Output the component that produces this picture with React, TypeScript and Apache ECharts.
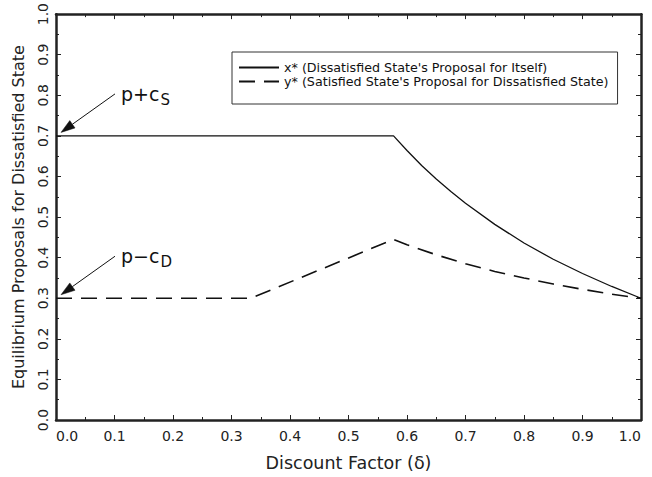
import React, { useEffect, useRef } from "react";
import * as echarts from "echarts";

// x* : Dissatisfied State's proposal for itself
const xStarDelta = [0, 0.577, 0.6, 0.625, 0.65, 0.675, 0.7, 0.75, 0.8, 0.85, 0.9, 0.95, 1.0];
const xStarValue = [0.7, 0.7, 0.664, 0.627, 0.594, 0.563, 0.534, 0.482, 0.436, 0.396, 0.361, 0.329, 0.3];

// y* : Satisfied State's proposal for Dissatisfied State
const yStarDelta = [0, 0.333, 0.577, 0.6, 0.65, 0.7, 0.75, 0.8, 0.85, 0.9, 0.95, 1.0];
const yStarValue = [0.3, 0.3, 0.445, 0.432, 0.407, 0.385, 0.366, 0.35, 0.335, 0.322, 0.31, 0.3];

const seriesNames = [
  "x* (Dissatisfied State's Proposal for Itself)",
  "y* (Satisfied State's Proposal for Dissatisfied State)",
];

// annotations: [main text, subscript, delta, value]
const annotations: [string, string, number, number][] = [
  ["p+c", "S", 0, 0.7],
  ["p\u2212c", "D", 0, 0.3],
];

const xAxisName = "Discount Factor (\u03b4)";
const yAxisName = "Equilibrium Proposals for Dissatisfied State";

const FONT = "DejaVu Sans";

function measure(text: string, size: number): number {
  const c = document.createElement("canvas").getContext("2d");
  if (!c) return text.length * size * 0.6;
  c.font = `${size}px "${FONT}"`;
  return c.measureText(text).width;
}

export default function App() {
  const ref = useRef<HTMLDivElement>(null);
  useEffect(() => {
    if (!ref.current) return;
    const chart = echarts.init(ref.current, null, { renderer: "svg" });
    const axisLineStyle = { color: "#222", width: 2.5 };
    const tick = { inside: true, length: 5, lineStyle: { color: "#222", width: 1 } };
    const minor = { show: true, splitNumber: 2, length: 3, lineStyle: { color: "#222", width: 1 } };
    const option: any = {
      animation: false,
      backgroundColor: "#fff",
      textStyle: { fontFamily: FONT },
      grid: { left: 56, right: 11, top: 14, bottom: 54 },
      legend: {
        left: 232,
        top: 52,
        orient: "vertical",
        borderColor: "#333",
        borderWidth: 1,
        padding: [9, 9, 16, 6],
        itemGap: 1,
        itemWidth: 40,
        itemHeight: 10,
        itemStyle: { opacity: 0, color: "transparent", borderWidth: 0 },
        textStyle: { fontFamily: FONT, fontSize: 12.7, color: "#111", padding: [0, 0, 0, 0] },
        data: seriesNames,
      },
      xAxis: [
        {
          type: "value",
          min: 0,
          max: 1,
          interval: 0.1,
          position: "bottom",
          name: xAxisName,
          nameLocation: "middle",
          nameGap: 34,
          nameTextStyle: { fontFamily: FONT, fontSize: 17.5, color: "#222" },
          axisLine: { show: true, onZero: false, lineStyle: axisLineStyle },
          axisTick: tick,
          minorTick: minor,
          splitLine: { show: false },
          axisLabel: {
            fontFamily: FONT,
            fontSize: 14,
            color: "#222",
            margin: 9,
            formatter: (v: number) => v.toFixed(1),
            alignMinLabel: "left",
            alignMaxLabel: "right",
          },
        },
        {
          type: "value",
          min: 0,
          max: 1,
          interval: 0.1,
          position: "top",
          axisLine: { show: true, onZero: false, lineStyle: axisLineStyle },
          axisTick: tick,
          minorTick: minor,
          splitLine: { show: false },
          axisLabel: { show: false },
        },
      ],
      yAxis: [
        {
          type: "value",
          min: 0,
          max: 1,
          interval: 0.1,
          position: "left",
          name: yAxisName,
          nameLocation: "middle",
          nameGap: 30,
          nameTextStyle: { fontFamily: FONT, fontSize: 16, color: "#222" },
          axisLine: { show: true, onZero: false, lineStyle: axisLineStyle },
          axisTick: tick,
          minorTick: minor,
          splitLine: { show: false },
          axisLabel: {
            fontFamily: FONT,
            fontSize: 14,
            color: "#222",
            rotate: 90,
            margin: 6,
            formatter: (v: number) => v.toFixed(1),
          },
        },
        {
          type: "value",
          min: 0,
          max: 1,
          interval: 0.1,
          position: "right",
          axisLine: { show: true, onZero: false, lineStyle: axisLineStyle },
          axisTick: tick,
          minorTick: minor,
          splitLine: { show: false },
          axisLabel: { show: false },
        },
      ],
      series: [
        {
          name: seriesNames[0],
          type: "line",
          xAxisIndex: 0,
          yAxisIndex: 0,
          symbol: "none",
          smooth: false,
          lineStyle: { color: "#111", width: 1.3, type: "solid" },
          itemStyle: { color: "#111" },
          data: xStarDelta.map((d, i) => [d, xStarValue[i]]),
        },
        {
          name: seriesNames[1],
          type: "line",
          xAxisIndex: 0,
          yAxisIndex: 0,
          symbol: "none",
          smooth: false,
          lineStyle: { color: "#111", width: 1.6, type: [16, 9] },
          itemStyle: { color: "#111" },
          data: yStarDelta.map((d, i) => [d, yStarValue[i]]),
        },
      ],
    };
    chart.setOption(option);

    const graphics: any[] = [];
    const mainSize = 19;
    const subSize = 15;
    annotations.forEach(([main, sub, d, v]) => {
      const pt = chart.convertToPixel({ xAxisIndex: 0, yAxisIndex: 0 }, [d, v]) as number[];
      const tip = [pt[0] + 5, pt[1] - 3.5];
      const tail = [pt[0] + 59, pt[1] - 42];
      const dx = tail[0] - tip[0];
      const dy = tail[1] - tip[1];
      const len = Math.sqrt(dx * dx + dy * dy);
      const ux = dx / len;
      const uy = dy / len;
      const headLen = 14;
      const headHalf = 4.5;
      const base = [tip[0] + ux * headLen, tip[1] + uy * headLen];
      const px = -uy * headHalf;
      const py = ux * headHalf;
      graphics.push({
        type: "line",
        shape: { x1: tail[0], y1: tail[1], x2: base[0], y2: base[1] },
        style: { stroke: "#111", lineWidth: 1 },
        z: 100,
      });
      graphics.push({
        type: "polygon",
        shape: {
          points: [
            [tip[0], tip[1]],
            [base[0] + px, base[1] + py],
            [base[0] - px, base[1] - py],
          ],
        },
        style: { fill: "#111", stroke: "#111", lineWidth: 0.5 },
        z: 100,
      });
      const tx = pt[0] + 65;
      const ty = pt[1] - 42;
      graphics.push({
        type: "text",
        x: tx,
        y: ty,
        style: {
          text: main,
          fontFamily: FONT,
          fontSize: mainSize,
          fill: "#111",
          verticalAlign: "middle",
          align: "left",
        },
        z: 100,
      });
      graphics.push({
        type: "text",
        x: tx + measure(main, mainSize) + 1,
        y: ty + 6,
        style: {
          text: sub,
          fontFamily: FONT,
          fontSize: subSize,
          fill: "#111",
          verticalAlign: "middle",
          align: "left",
        },
        z: 100,
      });
    });
    chart.setOption({ graphic: graphics });

    return () => chart.dispose();
  }, []);
  return <div ref={ref} style={{ width: 652, height: 477, position: "absolute", left: 0, top: 0 }} />;
}
